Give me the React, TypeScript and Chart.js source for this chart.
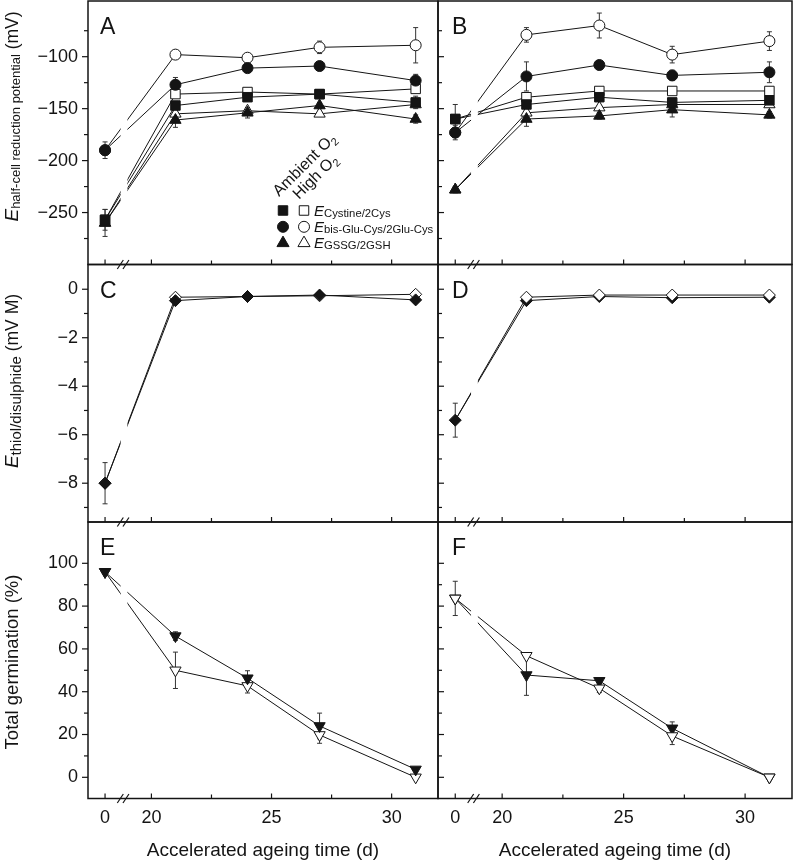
import React, { useEffect, useRef } from 'react';
import { Chart, registerables } from 'chart.js';

Chart.register(...registerables);

const FONT = "'Liberation Sans', Arial, Helvetica, sans-serif";
const INK = '#141414';
Chart.defaults.font.family = FONT;

// ---------- x axis (broken axis: day 0, then 20–32 d) ----------
const days = [0, 21, 24, 27, 31];
const ZERO_POS = 18.07; // axis position that stands for day 0 on the broken axis
const axisPos = (d: number) => (d === 0 ? ZERO_POS : d);
const xTickDays = [0, 20, 25, 30];
const xMinorDays = [22.5, 27.5];
const X_MIN = 17.36;
const X_MAX = 31.93;
const LINE_GAP = [18.72, 19.0];
const BREAK_MARKS = [18.705, 18.94];

// ---------- Panel A ----------
const aCystineAmbient = [-257, -147, -139, -136, -144];
const aCystineAmbientErr = [10, 4, 3, 2, 6];
const aCystineHigh = [-257, -136, -134, -136, -131];
const aCystineHighErr = [0, 2, 2, 2, 3];
const aBisAmbient = [-190, -127, -111, -109, -123];
const aBisAmbientErr = [8, 7, 3, 3, 6];
const aBisHigh = [-190, -98, -101, -91, -89];
const aBisHighErr = [0, 3, 4, 6, 17];
const aGssgAmbient = [-260, -161, -154, -147, -160];
const aGssgAmbientErr = [13, 7, 5, 3, 4];
const aGssgHigh = [-260, -155, -152, -155, -146];
const aGssgHighErr = [0, 2, 3, 2, 3];

// ---------- Panel B ----------
const bCystineAmbient = [-160, -146, -139, -144, -142];
const bCystineAmbientErr = [14, 4, 2, 3, 3];
const bCystineHigh = [-160, -139, -133, -133, -133];
const bCystineHighErr = [0, 2, 2, 2, 2];
const bBisAmbient = [-173, -119, -108, -118, -115];
const bBisAmbientErr = [7, 14, 3, 5, 10];
const bBisHigh = [-173, -79, -70, -98, -85];
const bBisHighErr = [0, 7, 12, 8, 9];
const bGssgAmbient = [-228, -160, -157, -151, -156];
const bGssgAmbientErr = [3, 7, 3, 7, 3];
const bGssgHigh = [-228, -154, -149, -146, -146];
const bGssgHighErr = [0, 2, 2, 2, 2];

// ---------- Panels C, D ----------
const cAmbient = [-8.0, -0.47, -0.3, -0.24, -0.44];
const cAmbientErr = [0.85, 0.08, 0.05, 0.05, 0.05];
const cHigh = [-8.0, -0.33, -0.3, -0.27, -0.21];
const cHighErr = [0, 0.04, 0.04, 0.04, 0.04];
const dAmbient = [-5.4, -0.47, -0.3, -0.35, -0.33];
const dAmbientErr = [0.7, 0.12, 0.04, 0.04, 0.04];
const dHigh = [-5.4, -0.33, -0.24, -0.24, -0.24];
const dHighErr = [0, 0.04, 0.04, 0.04, 0.04];

// ---------- Panels E, F ----------
const eAmbient = [96, 66, 46.3, 24, 3.7];
const eAmbientErr = [0, 2, 3.5, 6, 0];
const eHigh = [96, 50, 42.7, 19.8, 0];
const eHighErr = [0, 8.5, 3.3, 3.9, 0];
const fAmbient = [83.6, 47.8, 45.1, 22.9, 0];
const fAmbientErr = [0, 9.5, 1, 3, 0];
const fHigh = [83.6, 56.8, 41.6, 19.3, 0];
const fHighErr = [8, 1, 2, 4, 0];

// ---------- y ticks ----------
const yTicksRedox = [-250, -200, -150, -100];
const yMinorRedox = [-275, -225, -175, -125, -75];
const yTicksThiol = [-8, -6, -4, -2, 0];
const yMinorThiol = [-9, -7, -5, -3, -1];
const yTicksGerm = [0, 20, 40, 60, 80, 100];
const yMinorGerm = [10, 30, 50, 70, 90];

// ---------- texts ----------
const legendHeaders = ['Ambient O', 'High O'];
const legendSubscripts = ['Cystine/2Cys', 'bis-Glu-Cys/2Glu-Cys', 'GSSG/2GSH'];
const xTitle = 'Accelerated ageing time (d)';

type Shape = 'rect' | 'circle' | 'triangle' | 'rectRot';
interface SeriesCfg {
  values: number[];
  errors: number[];
  shape: Shape;
  filled: boolean;
  radius: number;
  down?: boolean;
  hideFirst?: boolean;
}
interface Part { text: string; size: number; italic?: boolean; dy?: number }
interface PanelCfg {
  key: string;
  letter: string;
  col: 0 | 1;
  row: 0 | 1 | 2;
  yMin: number;
  yMax: number;
  yMajor: number[];
  yMinor: number[];
  series: SeriesCfg[];
  yTitle?: { parts: Part[]; dx: number; dy: number };
  legend?: boolean;
}

const S = (values: number[], errors: number[], shape: Shape, filled: boolean, radius: number, extra: Partial<SeriesCfg> = {}): SeriesCfg =>
  ({ values, errors, shape, filled, radius, ...extra });

const panels: PanelCfg[] = [
  {
    key: 'A', letter: 'A', col: 0, row: 0, yMin: -300, yMax: -46.4, yMajor: yTicksRedox, yMinor: yMinorRedox, legend: true,
    series: [
      S(aCystineAmbient, aCystineAmbientErr, 'rect', true, 6.7),
      S(aBisAmbient, aBisAmbientErr, 'circle', true, 5.5),
      S(aGssgAmbient, aGssgAmbientErr, 'triangle', true, 6.5),
      S(aCystineHigh, aCystineHighErr, 'rect', false, 6.7),
      S(aBisHigh, aBisHighErr, 'circle', false, 5.5),
      S(aGssgHigh, aGssgHighErr, 'triangle', false, 6.5),
    ],
    yTitle: {
      parts: [
        { text: 'E', size: 19, italic: true },
        { text: 'half-cell reduction potential', size: 13, dy: 2.5 },
        { text: ' (mV)', size: 17.5 },
      ],
      dx: -70.5, dy: 115.5,
    },
  },
  {
    key: 'B', letter: 'B', col: 1, row: 0, yMin: -300, yMax: -46.4, yMajor: yTicksRedox, yMinor: yMinorRedox,
    series: [
      S(bCystineAmbient, bCystineAmbientErr, 'rect', true, 6.7),
      S(bBisAmbient, bBisAmbientErr, 'circle', true, 5.5),
      S(bGssgAmbient, bGssgAmbientErr, 'triangle', true, 6.5),
      S(bCystineHigh, bCystineHighErr, 'rect', false, 6.7),
      S(bBisHigh, bBisHighErr, 'circle', false, 5.5),
      S(bGssgHigh, bGssgHighErr, 'triangle', false, 6.5),
    ],
  },
  {
    key: 'C', letter: 'C', col: 0, row: 1, yMin: -9.6, yMax: 1.02, yMajor: yTicksThiol, yMinor: yMinorThiol,
    series: [
      S(cAmbient, cAmbientErr, 'rectRot', true, 6),
      S(cHigh, cHighErr, 'rectRot', false, 6),
    ],
    yTitle: {
      parts: [
        { text: 'E', size: 19, italic: true },
        { text: 'thiol/disulphide', size: 15, dy: 2.5 },
        { text: ' (mV M)', size: 17.5 },
      ],
      dx: -70, dy: 116.5,
    },
  },
  {
    key: 'D', letter: 'D', col: 1, row: 1, yMin: -9.6, yMax: 1.02, yMajor: yTicksThiol, yMinor: yMinorThiol,
    series: [
      S(dHigh, dHighErr, 'rectRot', false, 6, { hideFirst: true }),
      S(dAmbient, dAmbientErr, 'rectRot', true, 6),
    ],
  },
  {
    key: 'E', letter: 'E', col: 0, row: 2, yMin: -9.9, yMax: 119.3, yMajor: yTicksGerm, yMinor: yMinorGerm,
    series: [
      S(eAmbient, eAmbientErr, 'triangle', true, 6.5, { down: true }),
      S(eHigh, eHighErr, 'triangle', false, 6.5, { down: true }),
    ],
    yTitle: { parts: [{ text: 'Total germination (%)', size: 18.5 }], dx: -69.7, dy: 140 },
  },
  {
    key: 'F', letter: 'F', col: 1, row: 2, yMin: -9.9, yMax: 119.3, yMajor: yTicksGerm, yMinor: yMinorGerm,
    series: [
      S(fHigh, fHighErr, 'triangle', false, 6.5, { down: true }),
      S(fAmbient, fAmbientErr, 'triangle', true, 6.5, { down: true }),
    ],
  },
];

// ---------- layout geometry ----------
const COL_EDGES = [88, 438, 792];
const ROW_EDGES = [1, 264.5, 522, 798.5];
const CANVAS_COLS = [[0, 446], [430, 796]];
const CANVAS_ROWS = [[0, 272], [256, 530], [514, 860]];
const X_AXIS_H = 40; // height reserved for the bottom-row tick labels

function geometry(p: PanelCfg) {
  const [cx0, cx1] = CANVAS_COLS[p.col];
  const [cy0, cy1] = CANVAS_ROWS[p.row];
  const bl = COL_EDGES[p.col], br = COL_EDGES[p.col + 1];
  const bt = ROW_EDGES[p.row], bb = ROW_EDGES[p.row + 1];
  const yAxisW = p.col === 0 ? bl - cx0 : 0;
  const xAxisH = p.row === 2 ? X_AXIS_H : 0;
  return {
    left: cx0, top: cy0, w: cx1 - cx0, h: cy1 - cy0,
    yAxisW, xAxisH,
    pad: { left: bl - cx0 - yAxisW, right: cx1 - br, top: bt - cy0, bottom: cy1 - bb - xAxisH },
  };
}

const fmt = (v: number) => (v < 0 ? '\u2212' + Math.abs(v) : String(v));

function fontOf(p: Part) {
  return `${p.italic ? 'italic ' : ''}${p.size}px ${FONT}`;
}

function drawRich(ctx: CanvasRenderingContext2D, parts: Part[], x: number, y: number, rot: number, center: boolean) {
  ctx.save();
  ctx.translate(x, y);
  ctx.rotate(rot);
  ctx.textAlign = 'left';
  ctx.textBaseline = 'alphabetic';
  ctx.fillStyle = INK;
  const widths = parts.map((p) => { ctx.font = fontOf(p); return ctx.measureText(p.text).width; });
  const total = widths.reduce((a, b) => a + b, 0);
  let pos = center ? -total / 2 : 0;
  parts.forEach((p, i) => {
    ctx.font = fontOf(p);
    ctx.fillText(p.text, pos, p.dy || 0);
    pos += widths[i];
  });
  ctx.restore();
}

function drawShape(ctx: CanvasRenderingContext2D, shape: Shape, x: number, y: number, r: number, filled: boolean) {
  ctx.beginPath();
  if (shape === 'circle') ctx.arc(x, y, r, 0, Math.PI * 2);
  else if (shape === 'rect') { const h = r * Math.SQRT1_2; ctx.rect(x - h, y - h, 2 * h, 2 * h); }
  else if (shape === 'triangle') {
    for (let k = 0; k < 3; k++) {
      const a = -Math.PI / 2 + (k * 2 * Math.PI) / 3;
      const px = x + Math.cos(a) * r, py = y + Math.sin(a) * r;
      if (k === 0) ctx.moveTo(px, py); else ctx.lineTo(px, py);
    }
  }
  ctx.closePath();
  ctx.fillStyle = filled ? INK : '#fff';
  ctx.fill();
  ctx.lineWidth = 1;
  ctx.strokeStyle = INK;
  ctx.stroke();
}

function line(ctx: CanvasRenderingContext2D, x1: number, y1: number, x2: number, y2: number) {
  ctx.beginPath();
  ctx.moveTo(x1, y1);
  ctx.lineTo(x2, y2);
  ctx.stroke();
}

function makePlugin(p: PanelCfg) {
  return {
    id: 'panel' + p.key,
    beforeDatasetsDraw(chart: any) {
      const { ctx, scales } = chart;
      const ys = scales.y;
      ctx.save();
      ctx.strokeStyle = '#333';
      ctx.lineWidth = 1;
      p.series.forEach((s, i) => {
        const meta = chart.getDatasetMeta(i);
        s.errors.forEach((err, j) => {
          if (!err) return;
          const el = meta.data[j];
          const y1 = ys.getPixelForValue(s.values[j] + err);
          const y2 = ys.getPixelForValue(s.values[j] - err);
          line(ctx, el.x, y1, el.x, y2);
          line(ctx, el.x - 2.5, y1, el.x + 2.5, y1);
          line(ctx, el.x - 2.5, y2, el.x + 2.5, y2);
        });
      });
      ctx.restore();
    },
    afterDatasetsDraw(chart: any) {
      const { ctx, chartArea: ca, scales } = chart;
      const x1 = scales.x.getPixelForValue(LINE_GAP[0]);
      const x2 = scales.x.getPixelForValue(LINE_GAP[1]);
      ctx.save();
      ctx.fillStyle = '#fff';
      ctx.fillRect(x1, ca.top + 9, x2 - x1, ca.bottom - ca.top - 18);
      ctx.restore();
    },
    afterDraw(chart: any) {
      const { ctx, chartArea: ca, scales } = chart;
      const xs = scales.x, ys = scales.y;
      ctx.save();
      ctx.strokeStyle = INK;
      // frame
      ctx.lineWidth = 1.5;
      ctx.strokeRect(ca.left, ca.top, ca.right - ca.left, ca.bottom - ca.top);
      // y ticks
      ctx.lineWidth = 1.2;
      const dir = p.col === 0 ? -1 : 1;
      p.yMajor.forEach((v) => { const py = ys.getPixelForValue(v); line(ctx, ca.left, py, ca.left + dir * 6, py); });
      p.yMinor.forEach((v) => { const py = ys.getPixelForValue(v); line(ctx, ca.left, py, ca.left + dir * 4, py); });
      // x ticks (inward)
      xTickDays.forEach((d) => { const px = xs.getPixelForValue(axisPos(d)); line(ctx, px, ca.bottom, px, ca.bottom - 5); });
      xMinorDays.forEach((d) => { const px = xs.getPixelForValue(d); line(ctx, px, ca.bottom, px, ca.bottom - 4); });
      // break marks
      BREAK_MARKS.forEach((v) => { const px = xs.getPixelForValue(v); line(ctx, px - 3, ca.bottom + 4.5, px + 3, ca.bottom - 4.5); });
      // panel letter
      ctx.fillStyle = INK;
      ctx.font = `23px ${FONT}`;
      ctx.textAlign = 'left';
      ctx.textBaseline = 'alphabetic';
      ctx.fillText(p.letter, ca.left + (p.col === 0 ? 12 : 14), ca.top + 33);
      // y title
      if (p.yTitle) drawRich(ctx, p.yTitle.parts, ca.left + p.yTitle.dx, ca.top + p.yTitle.dy, -Math.PI / 2, true);
      // x title
      if (p.row === 2) {
        ctx.font = `19px ${FONT}`;
        ctx.textAlign = 'center';
        ctx.fillStyle = INK;
        ctx.fillText(xTitle, (ca.left + ca.right) / 2, ca.bottom + 57.5);
      }
      // legend
      if (p.legend) {
        const colX = [ca.left + 195, ca.left + 216];
        drawRich(ctx, [{ text: legendHeaders[0], size: 16 }, { text: '2', size: 11, dy: 4 }], ca.left + 191, ca.top + 196, -Math.PI / 4, false);
        drawRich(ctx, [{ text: legendHeaders[1], size: 16 }, { text: '2', size: 11, dy: 4 }], ca.left + 211, ca.top + 199, -Math.PI / 4, false);
        const shapes: [Shape, number][] = [['rect', 6.7], ['circle', 5.5], ['triangle', 7]];
        shapes.forEach(([sh, r], k) => {
          const ry = ca.top + 209.5 + k * 16.3;
          drawShape(ctx, sh, colX[0], ry, r, true);
          drawShape(ctx, sh, colX[1], ry, r, false);
          drawRich(ctx, [{ text: 'E', size: 15, italic: true }, { text: legendSubscripts[k], size: 11.3, dy: 1 }], ca.left + 226, ry + 5, 0, false);
        });
      }
      ctx.restore();
    },
  };
}

function buildConfig(p: PanelCfg, g: ReturnType<typeof geometry>): any {
  const zeroPad = (s: any) => { s.paddingLeft = 0; s.paddingRight = 0; s.paddingTop = 0; s.paddingBottom = 0; };
  const datasets = p.series.map((s) => ({
    data: days.map((d, j) => ({ x: axisPos(d), y: s.values[j] })),
    borderColor: INK,
    borderWidth: 1,
    fill: false,
    tension: 0,
    clip: false,
    pointStyle: s.shape,
    pointRotation: s.down ? 180 : 0,
    pointRadius: s.hideFirst ? days.map((_, j) => (j === 0 ? 0 : s.radius)) : s.radius,
    pointBackgroundColor: s.filled ? INK : '#ffffff',
    pointBorderColor: INK,
    pointBorderWidth: 1,
  }));
  return {
    type: 'line',
    data: { datasets },
    options: {
      animation: false,
      responsive: false,
      maintainAspectRatio: false,
      devicePixelRatio: 1,
      events: [],
      layout: { autoPadding: false, padding: g.pad },
      plugins: { legend: { display: false }, tooltip: { enabled: false } },
      scales: {
        x: {
          type: 'linear',
          min: X_MIN,
          max: X_MAX,
          afterBuildTicks: (s: any) => { s.ticks = xTickDays.map((d) => ({ value: axisPos(d) })); },
          afterFit: (s: any) => { s.height = g.xAxisH; zeroPad(s); },
          grid: { display: false, drawTicks: false },
          border: { display: false },
          ticks: {
            display: p.row === 2,
            autoSkip: false,
            maxRotation: 0,
            minRotation: 0,
            padding: 9,
            color: INK,
            font: { family: FONT, size: 18 },
            callback: (_v: any, i: number) => String(xTickDays[i]),
          },
        },
        y: {
          type: 'linear',
          min: p.yMin,
          max: p.yMax,
          afterBuildTicks: (s: any) => { s.ticks = p.yMajor.map((v) => ({ value: v })); },
          afterFit: (s: any) => { s.width = g.yAxisW; zeroPad(s); },
          grid: { display: false, drawTicks: false },
          border: { display: false },
          ticks: {
            display: p.col === 0,
            autoSkip: false,
            padding: 10,
            color: INK,
            font: { family: FONT, size: 18 },
            callback: (v: any) => fmt(Number(v)),
          },
        },
      },
    },
    plugins: [makePlugin(p)],
  };
}

function Panel({ cfg }: { cfg: PanelCfg }) {
  const ref = useRef<HTMLCanvasElement>(null);
  const g = geometry(cfg);
  useEffect(() => {
    if (!ref.current) return;
    const chart = new Chart(ref.current, buildConfig(cfg, g));
    return () => chart.destroy();
  }, []);
  return (
    <canvas
      ref={ref}
      width={g.w}
      height={g.h}
      style={{ position: 'absolute', left: g.left, top: g.top, width: g.w, height: g.h }}
    />
  );
}

export default function App() {
  return (
    <div style={{ position: 'absolute', left: 0, top: 0, width: 796, height: 860, background: '#fff', overflow: 'hidden' }}>
      {panels.map((p) => (
        <Panel key={p.key} cfg={p} />
      ))}
    </div>
  );
}
